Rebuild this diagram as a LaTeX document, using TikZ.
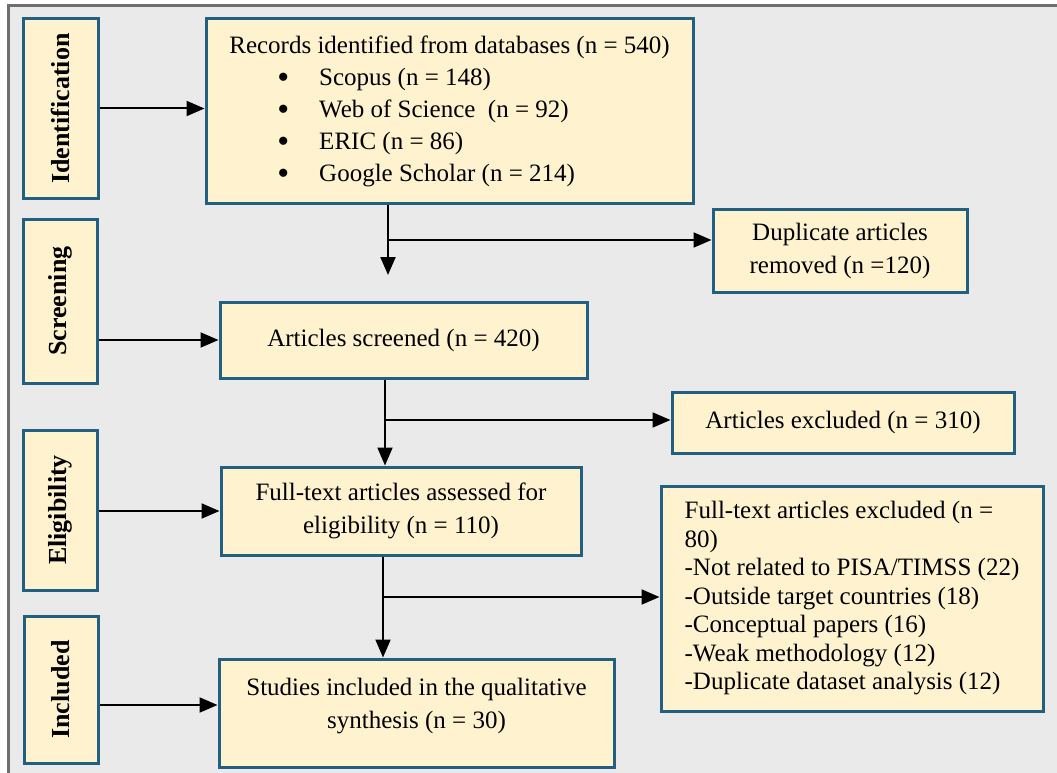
\documentclass[tikz,border=0pt]{standalone}
\usepackage{fontspec}
\setmainfont{Liberation Serif}
\usetikzlibrary{arrows.meta}
\definecolor{boxfill}{RGB}{255,242,206}
\definecolor{boxline}{RGB}{33,96,130}
\definecolor{paper}{RGB}{234,234,234}
\definecolor{frame}{RGB}{110,110,110}
\newcommand{\bigdot}{\raisebox{-3pt}{\fontsize{34}{33}\selectfont\textbullet}}

\begin{document}
\begin{tikzpicture}[x=1pt,y=-1pt,
      every node/.style={draw=boxline,line width=3pt,fill=boxfill,
        inner sep=0pt,font=\fontsize{25}{33}\selectfont},
      stage/.style={font=\fontsize{26}{33}\selectfont\bfseries,rotate=90},
      box/.style={align=center},
      arr/.style={line width=2pt,-{Triangle[length=18pt,width=15pt]}}]
    \useasboundingbox (0,0) rectangle (1057,773);
    \fill[paper] (8,6) rectangle (1057,773);
    \draw[frame,line width=3pt] (8,773) -- (8,6) -- (1057,6);
    \node[stage,minimum width=179,minimum height=75] (ident) at (60.5,108.5) {Identification};
    \node[stage,minimum width=164,minimum height=74] (screen) at (60,301) {Screening};
    \node[stage,minimum width=160,minimum height=74] (elig) at (60,510) {Eligibility};
    \node[stage,minimum width=147,minimum height=74] (incl) at (61,689.5) {Included};
    \node[align=left,minimum width=487,minimum height=184,
      font=\fontsize{25}{32}\selectfont] (rec) at (449.5,111)
      {Records identified from databases (n = 540)\\
       \hspace*{48pt}\bigdot\hspace{30pt}Scopus (n = 148)\\
       \hspace*{48pt}\bigdot\hspace{30pt}Web of Science\ \ (n = 92)\\
       \hspace*{48pt}\bigdot\hspace{30pt}ERIC (n = 86)\\
       \hspace*{48pt}\bigdot\hspace{30pt}Google Scholar (n = 214)};
    \node[box,minimum width=254,minimum height=83] (dup) at (840,250.5)
      {Duplicate articles\\removed (n =120)};
    \node[box,minimum width=367,minimum height=76] (scr) at (403.5,340)
      {Articles screened (n = 420)};
    \node[box,minimum width=342,minimum height=61] (excl) at (843,422.5)
      {Articles excluded (n = 310)};
    \node[box,minimum width=360,minimum height=88] (full) at (401,511)
      {Full-text articles assessed for\\eligibility (n = 110)};
    \node[align=left,minimum width=382,minimum height=225,
      font=\fontsize{25}{28.5}\selectfont] (fexcl) at (852,598.5)
      {Full-text articles excluded (n =\\80)\\-Not related to PISA/TIMSS (22)\\
       -Outside target countries (18)\\-Conceptual papers (16)\\
       -Weak methodology (12)\\-Duplicate dataset analysis (12)};
    \node[box,minimum width=395,minimum height=108] (stud) at (416.5,713)
      {Studies included in the qualitative\\synthesis (n = 30)\\[-13pt]\mbox{}};
    \coordinate (d1) at (388,275);
    \coordinate (b1) at (388,240);
    \coordinate (x2) at (385,420);
    \coordinate (x3) at (383,597);
    \coordinate (s4) at (98,705);
    \draw[arr] (ident.south) -- (ident.south -| rec.west);
    \draw[arr] (rec.south -| d1) -- (d1);
    \draw[arr] (b1) -- (b1 -| dup.west);
    \draw[arr] (scr.west -| screen.south) -- (scr.west);
    \draw[arr] (scr.south -| x2) -- (full.north -| x2);
    \draw[arr] (x2) -- (x2 -| excl.west);
    \draw[arr] (full.west -| elig.south) -- (full.west);
    \draw[arr] (full.south -| x3) -- (stud.north -| x3);
    \draw[arr] (x3) -- (x3 -| fexcl.west);
    \draw[arr] (s4 -| incl.south) -- (s4 -| stud.west);
\end{tikzpicture}
\end{document}
